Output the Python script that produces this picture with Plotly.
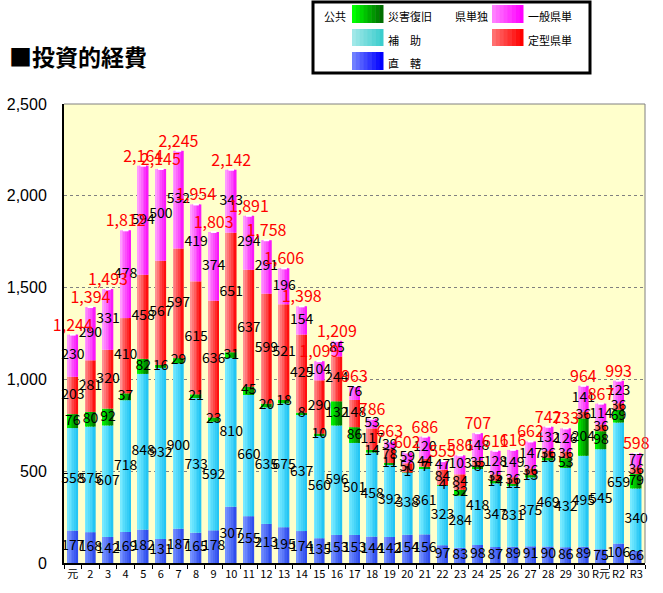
import plotly.graph_objects as go

# ---------------- data ----------------
categories = ['元', '2', '3', '4', '5', '6', '7', '8', '9', '10',
              '11', '12', '13', '14', '15', '16', '17', '18', '19', '20',
              '21', '22', '23', '24', '25', '26', '27', '28', '29', '30',
              'R元', 'R2', 'R3']

chokkatsu = [177, 168, 142, 169, 182, 131, 187, 165, 178, 307,
             255, 213, 195, 174, 135, 153, 153, 144, 142, 154,
             156, 97, 83, 98, 87, 89, 91, 90, 86, 89,
             75, 106, 66]
hojo = [558, 575, 607, 718, 848, 932, 900, 733, 592, 810,
        660, 635, 675, 637, 560, 596, 501, 458, 392, 338,
        361, 323, 284, 418, 347, 331, 375, 469, 432, 495,
        545, 659, 340]
saigai = [76, 80, 92, 37, 82, 16, 29, 21, 23, 31,
          45, 20, 18, 8, 10, 132, 86, 14, 11, 1,
          7, 4, 32, 8, 14, 11, 13, 15, 53, 204,
          98, 69, 79]
teikei = [203, 281, 320, 410, 458, 567, 597, 615, 636, 651,
          637, 599, 521, 425, 290, 244, 148, 117, 78, 50,
          44, 84, 84, 35, 35, 36, 36, 36, 36, 36,
          36, 36, 36]
ippan = [230, 290, 331, 478, 594, 500, 532, 419, 374, 343,
         294, 291, 196, 154, 104, 85, 76, 53, 39, 59,
         120, 47, 103, 148, 128, 149, 147, 132, 126, 141,
         114, 123, 77]
totals = [1244, 1394, 1493, 1812, 2164, 2145, 2245, 1954, 1803, 2142,
          1891, 1758, 1606, 1398, 1099, 1209, 963, 786, 663, 602,
          686, 555, 586, 707, 611, 616, 662, 742, 733, 964,
          867, 993, 598]

y_ticks = [0, 500, 1000, 1500, 2000, 2500]
y_tick_labels = ['0', '500', '1,000', '1,500', '2,000', '2,500']

# ---------------- styling ----------------
series = [
    ("直轄", chokkatsu, (118, 146, 255), (48, 78, 238)),
    ("補助", hojo, (120, 234, 255), (36, 198, 244)),
    ("災害復旧", saigai, (0, 240, 0), (0, 125, 0)),
    ("定型県単", teikei, (255, 145, 145), (255, 15, 15)),
    ("一般県単", ippan, (255, 155, 255), (250, 25, 250)),
]

W = 0.6
N = 6
NUM_FONT = "Noto Sans CJK JP"


def mix(c0, c1, t):
    return "rgb(%d,%d,%d)" % tuple(round(a + (b - a) * t) for a, b in zip(c0, c1))


fig = go.Figure()
base = [0] * len(categories)
label_sets = []
for name, vals, c0, c1 in series:
    for i in range(N):
        t = i / (N - 1)
        fig.add_trace(go.Bar(
            x=categories, y=vals, base=base,
            width=W / N + (0.012 if i < N - 1 else 0),
            offset=-W / 2 + i * W / N,
            marker=dict(color=mix(c0, c1, t), line=dict(width=0)),
            showlegend=False, hoverinfo="skip", name=name))
    mids = [b + v / 2 for b, v in zip(base, vals)]
    label_sets.append((vals, mids))
    base = [b + v for b, v in zip(base, vals)]

# small white cap on top of each column
fig.add_trace(go.Scatter(
    x=categories, y=base, mode="markers",
    marker=dict(symbol="line-ew", size=4, line=dict(color="white", width=2)),
    showlegend=False, hoverinfo="skip"))

for vals, mids in label_sets:
    fig.add_trace(go.Scatter(
        x=categories, y=mids, mode="text", text=[str(v) for v in vals],
        textfont=dict(family=NUM_FONT, size=14, color="black"),
        showlegend=False, hoverinfo="skip", cliponaxis=False))

fig.add_trace(go.Scatter(
    x=categories, y=base, mode="text", text=[f"{t:,}" for t in totals],
    textposition="top center",
    textfont=dict(family=NUM_FONT, size=16, color="#FF0000"),
    showlegend=False, hoverinfo="skip", cliponaxis=False))

# ---------------- layout ----------------
L, R, T, B = 64, 18, 104, 30
WIDTH, HEIGHT = 663, 593
PW, PH = WIDTH - L - R, HEIGHT - T - B


def px(x):
    return (x - L) / PW


def py(y):
    return (HEIGHT - B - y) / PH


shapes = [
    dict(type="line", xref="paper", yref="paper", x0=0, x1=1, y0=1, y1=1,
         line=dict(color="#808080", width=1)),
    dict(type="line", xref="paper", yref="paper", x0=1, x1=1, y0=0, y1=1,
         line=dict(color="#808080", width=1)),
    dict(type="rect", xref="paper", yref="paper", x0=px(313), x1=px(590),
         y0=py(73), y1=py(2), line=dict(color="black", width=3),
         fillcolor="white"),
]
annotations = [
    dict(text="<b>■投資的経費</b>", xref="paper", yref="paper",
         x=px(7), y=py(56), xanchor="left", yanchor="middle", showarrow=False,
         font=dict(family="Noto Sans CJK JP", size=23, color="black")),
]

legend_items = [
    # (label, x_swatch, y_top, y_bottom, c0, c1)
    ("災害復旧", 352, 5, 23, (0, 255, 0), (0, 110, 0)),
    ("補　助", 352, 29, 46, (160, 232, 232), (60, 205, 205)),
    ("直　轄", 352, 52, 70, (112, 128, 255), (0, 0, 255)),
    ("一般県単", 492, 5, 23, (255, 128, 255), (255, 0, 255)),
    ("定型県単", 492, 29, 46, (255, 112, 112), (255, 0, 0)),
]
LEG_FONT = dict(family="Noto Sans CJK JP", size=11, color="black")
SW = 31
NS = 8
for label, xs, y0, y1, c0, c1 in legend_items:
    for i in range(NS):
        shapes.append(dict(type="rect", xref="paper", yref="paper",
                           x0=px(xs + i * SW / NS), x1=px(xs + (i + 1) * SW / NS + 0.5),
                           y0=py(y1), y1=py(y0), line=dict(width=0),
                           fillcolor=mix(c0, c1, i / (NS - 1))))
    annotations.append(dict(text=label, xref="paper", yref="paper",
                            x=px(xs + SW + 3), y=py((y0 + y1) / 2 + 2),
                            xanchor="left", yanchor="middle", showarrow=False,
                            font=LEG_FONT))
annotations.append(dict(text="公共", xref="paper", yref="paper", x=px(335), y=py(16),
                        xanchor="center", yanchor="middle", showarrow=False, font=LEG_FONT))
annotations.append(dict(text="県単独", xref="paper", yref="paper", x=px(471), y=py(16),
                        xanchor="center", yanchor="middle", showarrow=False, font=LEG_FONT))

fig.update_layout(
    width=WIDTH, height=HEIGHT,
    margin=dict(l=L, r=R, t=T, b=B, pad=0, autoexpand=False),
    barmode="overlay",
    paper_bgcolor="white", plot_bgcolor="#FFFFCC",
    shapes=shapes, annotations=annotations,
    font=dict(family="Liberation Sans", color="black"),
    xaxis=dict(type="category", categoryorder="array", categoryarray=categories,
               range=[-0.5, len(categories) - 0.5],
               showline=True, linecolor="black", linewidth=2,
               ticks="outside", tickson="boundaries", ticklen=4, tickcolor="black",
               tickangle=0, automargin=False,
               tickfont=dict(family="Noto Sans CJK JP", size=11, color="black"),
               showgrid=False, zeroline=False),
    yaxis=dict(range=[0, 2500], tickvals=y_ticks, ticktext=y_tick_labels,
               showline=True, linecolor="black", linewidth=2,
               ticks="", ticklabelstandoff=12, automargin=False,
               tickfont=dict(family="Liberation Sans", size=16, color="black"),
               showgrid=True, gridcolor="#808080", griddash="dot", gridwidth=1,
               zeroline=False),
)

fig.write_html("out.html", config={"displayModeBar": False},
               post_script="document.body.style.margin='0px';")
